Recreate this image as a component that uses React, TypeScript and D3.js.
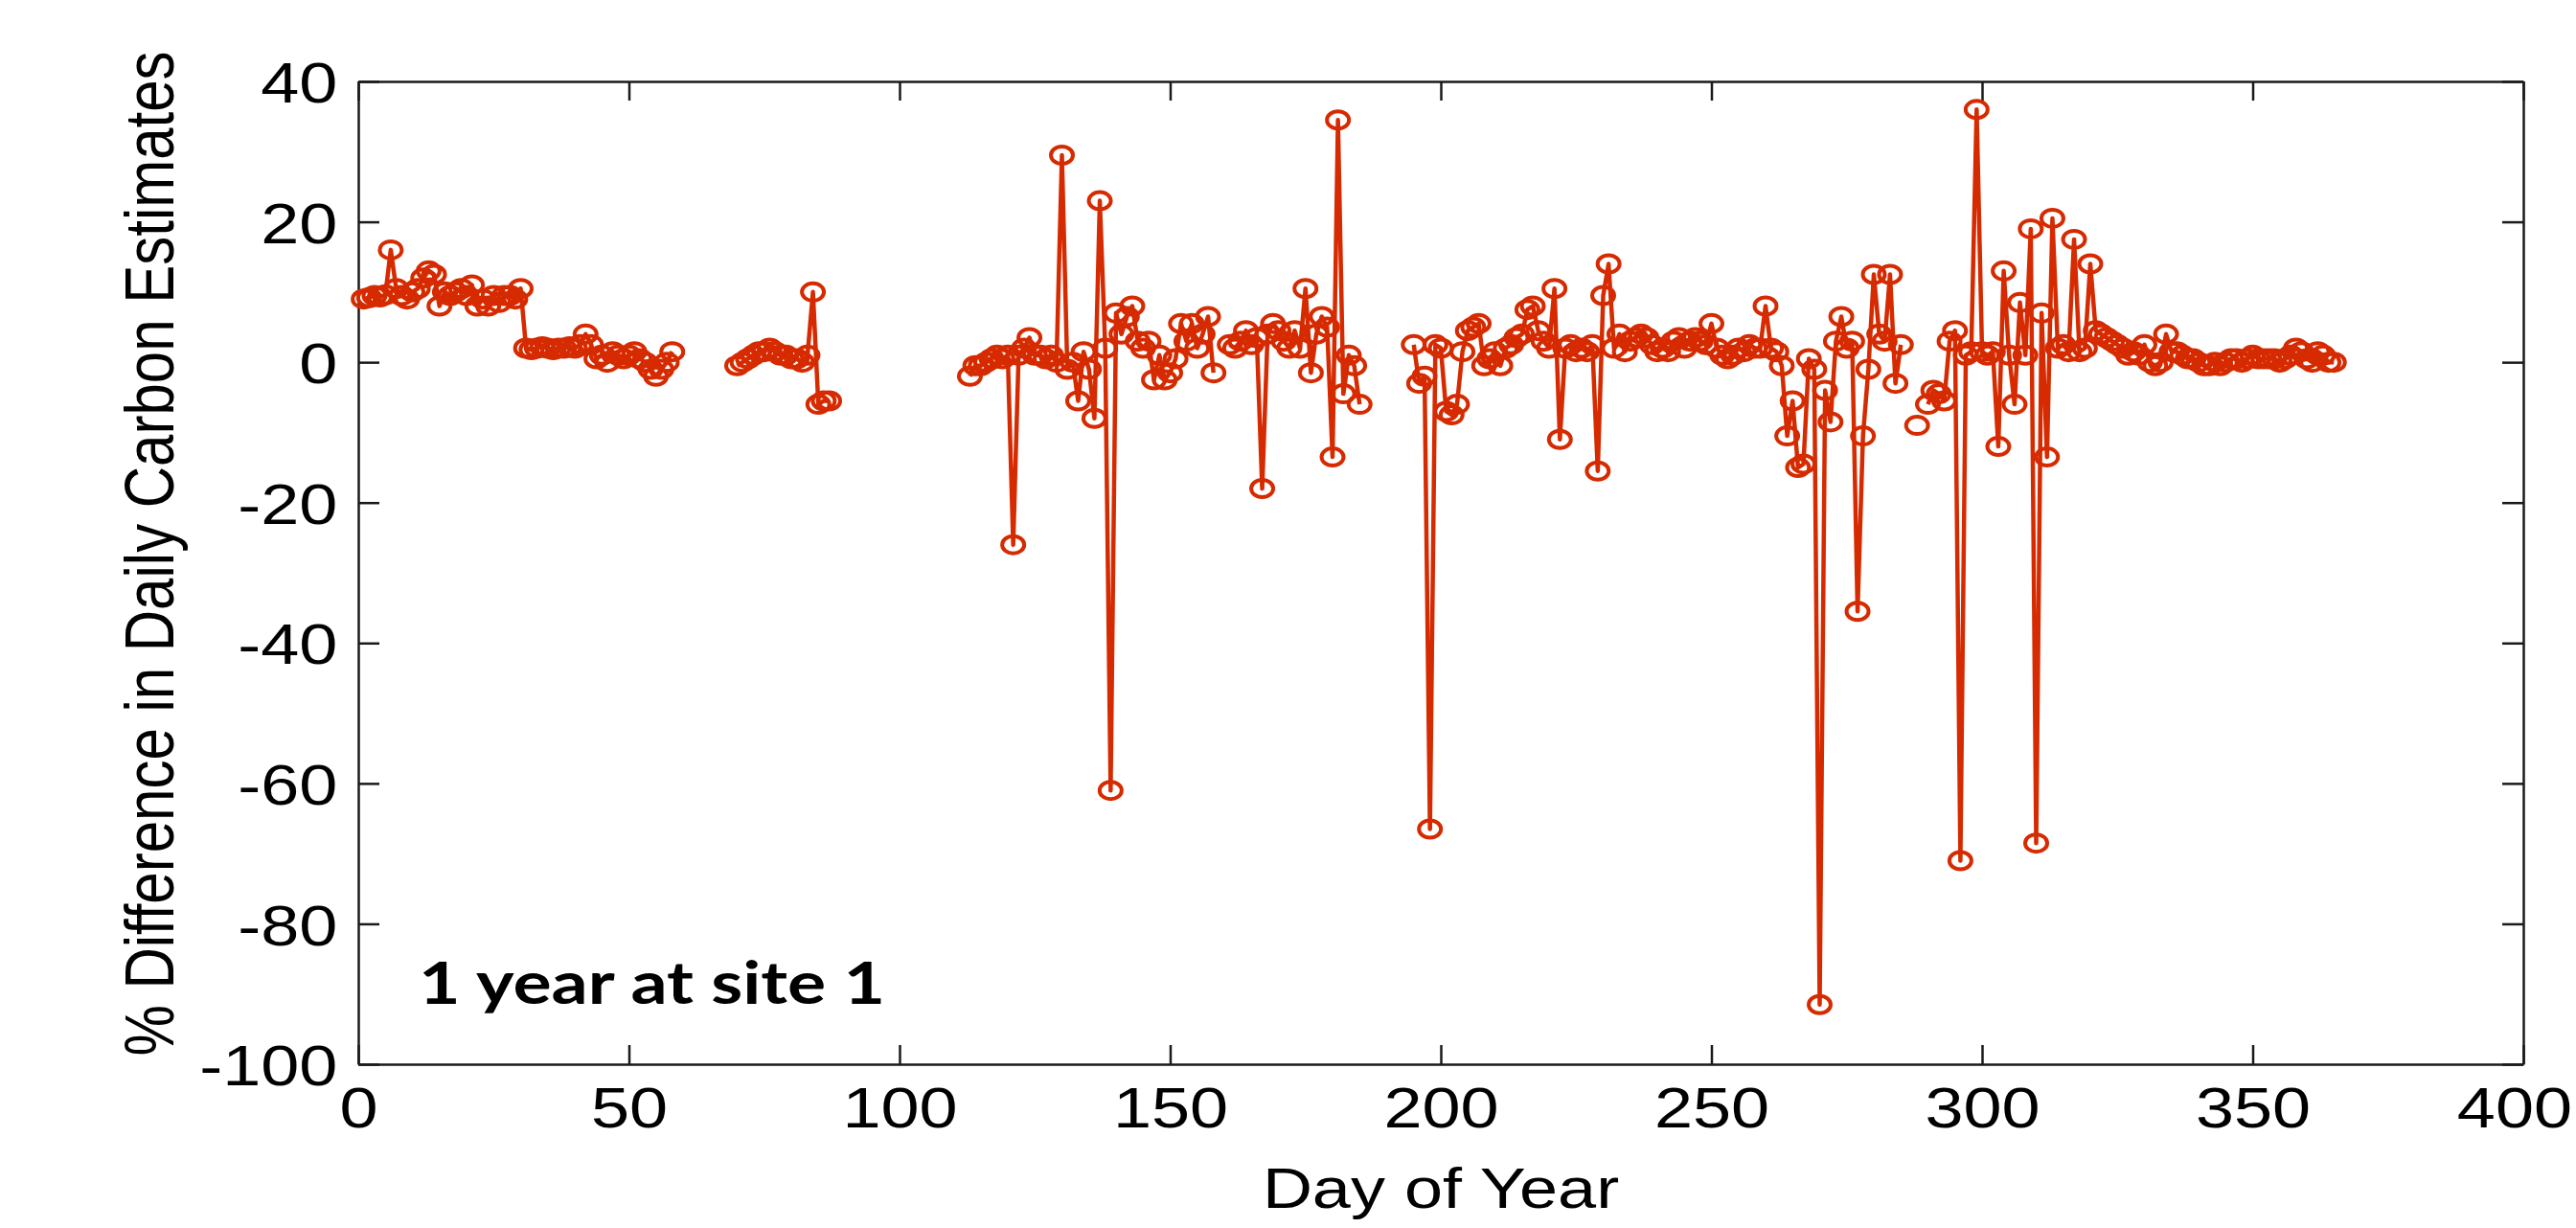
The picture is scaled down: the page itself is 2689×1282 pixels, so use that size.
import React, { useEffect, useRef } from 'react';
import * as d3 from 'd3';

// % difference per day, four measurement periods (null = no estimate)
const winterStart = 1;
const winterValues = [
  9, 9.2, 9.5, 9.3, 9.6, 16, 10.5, 9.5, 9, 10,
  10.5, 12, 13, 12.5, 8, 10, 9.5, 10, 10.5, 9.5,
  11, 8, 9, 8, 9.5, 8.5, 9.5, 9.5, 9, 10.5,
  2, 1.8, 2, 2.2, 2, 1.8, 2, 2, 2.2, 2,
  2.5, 4, 2.5, 0.5, 1, 0, 1.5, 1, 0.5, 1,
  1.5, 0.5, 0, -1, -2, -1, 0, 1.5,
];

const marchStart = 70;
const marchValues = [-0.5, 0, 0.5, 1, 1.5, 1.5, 2, 1.5, 1, 1, 0.5, 0.5, 0, 1, 10, -6, -5.5, -5.5];

const springStart = 113;
const springValues = [
  -2, -0.5, -0.5, 0, 0.5, 1, 0.5, 1, -26, 1,
  2, 3.5, 1, 1, 0.5, 1, 0, 29.5, -1, 0,
  -5.5, 1.5, -1, -8, 23, 2, -61, 7, 4, 6.5,
  8, 3, 2, 3, -2.5, 1, -2.5, -1.5, 0.5, 5.5,
  3, 5.5, 2, 4, 6.5, -1.5, null, null, 2.5, 2,
  3, 4.5, 2.5, 3.5, -18, 4, 5.5, 4.5, 3, 2,
  4.5, 2, 10.5, -1.5, 4, 6.5, 5, -13.5, 34.5, -4.5,
  1, -0.5, -6,
];

const summerStart = 195;
const summerValues = [
  2.5, -3, -2, -66.5, 2.5, 2, -7, -7.5, -6, 1.5,
  4.5, 5, 5.5, -0.5, 0.5, 1.5, -0.5, 2, 2.5, 3.5,
  4, 7.5, 8, 4.5, 3, 2, 10.5, -11, 2, 2.5,
  1.5, 2, 1.5, 2.5, -15.5, 9.5, 14, 2, 4, 1.5,
  3, 3.5, 4, 3.5, 2.5, 1.5, 2, 1.5, 3, 3.5,
  2, 3, 3.5, 3, 2.5, 5.5, 2, 1, 0.5, 1,
  2, 1.5, 2.5, 2, 2, 8, 2, 1.5, -0.5, -10.5,
  -5.5, -15, -14.5, 0.5, -1, -91.5, -4, -8.5, 3, 6.5,
  2, 3, -35.5, -10.5, -1, 12.5, 4, 3, 12.5, -3,
  2.5, null, null, -9, null, -6, -4, -4.5, -5.5, 3,
  4.5, -71, 1, 1.5, 36, 1.5, 1, 1.5, -12, 13,
  1, -6, 8.5, 1, 19, -68.5, 7, -13.5, 20.5, 2,
  2.5, 1.5, 17.5, 1.5, 2, 14, 4.5, 4, 3.5, 3,
  2.5, 2, 1, 1.5, 1, 2.5, 0, -0.5, 0, 4,
  1.5, 1.5, 1, 0.5, 0.5, 0, -0.5, -0.5, 0, -0.5,
  0, 0.5, 0.5, 0, 0.5, 1, 0.5, 0.5, 0.5, 0.5,
  0, 0.5, 1, 2, 1.5, 0.5, 0, 1.5, 1, 0,
  0,
];

const xTicks = [0, 50, 100, 150, 200, 250, 300, 350, 400];
const yTicks = [-100, -80, -60, -40, -20, 0, 20, 40];

const xLabel = 'Day of Year';
const yLabel = '% Difference in Daily Carbon Estimates';
const note = '1 year at site 1';

type Pt = { day: number; v: number | null };

const App = () => {
  const svgRef = useRef<SVGSVGElement>(null);
  const width = 2689;
  const height = 1282;
  const margin = { top: 85, right: 55, bottom: 171, left: 374 };
  const lineColor = '#d62a00';
  const stretch = 1.2; // the original figure is widened a bit

  useEffect(() => {
    const svg = d3.select(svgRef.current);
    svg.selectAll('*').remove();

    const x = d3.scaleLinear().domain([0, 400]).range([margin.left, width - margin.right]);
    const y = d3.scaleLinear().domain([-100, 40]).range([height - margin.bottom, margin.top]);

    const segments: Pt[][] = [
      [winterStart, winterValues],
      [marchStart, marchValues],
      [springStart, springValues],
      [summerStart, summerValues],
    ].map(([start, vals]) => (vals as (number | null)[]).map((v, i) => ({ day: (start as number) + i, v })));

    const font = '"Liberation Sans", Arial, Helvetica, sans-serif';

    const styleAxis = (g) => {
      g.attr('font-family', font).attr('font-size', 60).style('color', '#1a1a1a');
      g.select('.domain').attr('stroke-width', 2.5);
      g.selectAll('.tick line').attr('stroke-width', 2.5);
    };

    // bottom axis with labels
    const gx = svg.append('g')
      .attr('transform', `translate(0,${y(-100)})`)
      .call(d3.axisBottom(x).tickValues(xTicks).tickSizeInner(-20).tickSizeOuter(0).tickPadding(23).tickFormat(d => String(d)));
    styleAxis(gx);
    gx.selectAll('.tick text')
      .attr('fill', '#000')
      .attr('dx', d => (d === 400 ? -8 : 0))
      .attr('transform', `scale(${stretch},1)`);

    // left axis with labels
    const gy = svg.append('g')
      .attr('transform', `translate(${x(0)},0)`)
      .call(d3.axisLeft(y).tickValues(yTicks).tickSizeInner(-22).tickSizeOuter(0).tickPadding(18).tickFormat(d => String(d)));
    styleAxis(gy);
    gy.selectAll('.tick text').attr('fill', '#000').attr('dy', '0.36em').attr('transform', `scale(${stretch},1)`);

    // top and right: ticks only
    const gt = svg.append('g')
      .attr('transform', `translate(0,${y(40)})`)
      .call(d3.axisTop(x).tickValues(xTicks).tickSizeInner(-20).tickSizeOuter(0).tickFormat(() => ''));
    styleAxis(gt);
    const gr = svg.append('g')
      .attr('transform', `translate(${x(400)},0)`)
      .call(d3.axisRight(y).tickValues(yTicks).tickSizeInner(-22).tickSizeOuter(0).tickFormat(() => ''));
    styleAxis(gr);

    // data lines
    const line = d3.line<Pt>()
      .defined(d => d.v !== null)
      .x(d => x(d.day))
      .y(d => y(d.v as number));

    svg.append('g')
      .selectAll('path')
      .data(segments)
      .enter().append('path')
      .attr('d', d => line(d))
      .attr('fill', 'none')
      .attr('stroke', lineColor)
      .attr('stroke-width', 4.5)
      .attr('stroke-linejoin', 'round');

    // open circle markers
    const pts = segments.flat().filter(d => d.v !== null);
    svg.append('g')
      .selectAll('ellipse')
      .data(pts)
      .enter().append('ellipse')
      .attr('cx', d => x(d.day))
      .attr('cy', d => y(d.v as number))
      .attr('rx', 11.5)
      .attr('ry', 9)
      .attr('fill', 'none')
      .attr('stroke', lineColor)
      .attr('stroke-width', 4);

    // axis titles
    svg.append('text')
      .attr('transform', `translate(${(x(0) + x(400)) / 2},1261) scale(${stretch},1)`)
      .attr('text-anchor', 'middle')
      .attr('font-family', font)
      .attr('font-size', 60)
      .attr('fill', '#000')
      .text(xLabel);

    svg.append('text')
      .attr('transform', `translate(181,578) scale(${stretch},1) rotate(-90)`)
      .attr('text-anchor', 'middle')
      .attr('font-family', font)
      .attr('font-size', 60)
      .attr('fill', '#000')
      .text(yLabel);

    // annotation
    svg.append('text')
      .attr('x', 437)
      .attr('y', 1048)
      .attr('font-family', 'Lato, "Open Sans", sans-serif')
      .attr('font-weight', 700)
      .attr('font-size', 62)
      .attr('textLength', 487)
      .attr('lengthAdjust', 'spacingAndGlyphs')
      .attr('fill', '#000')
      .text(note);
  }, []);

  return (
    <svg
      ref={svgRef}
      width={width}
      height={height}
      style={{ position: 'absolute', left: 0, top: 0, background: '#fff' }}
    />
  );
};

export default App;
